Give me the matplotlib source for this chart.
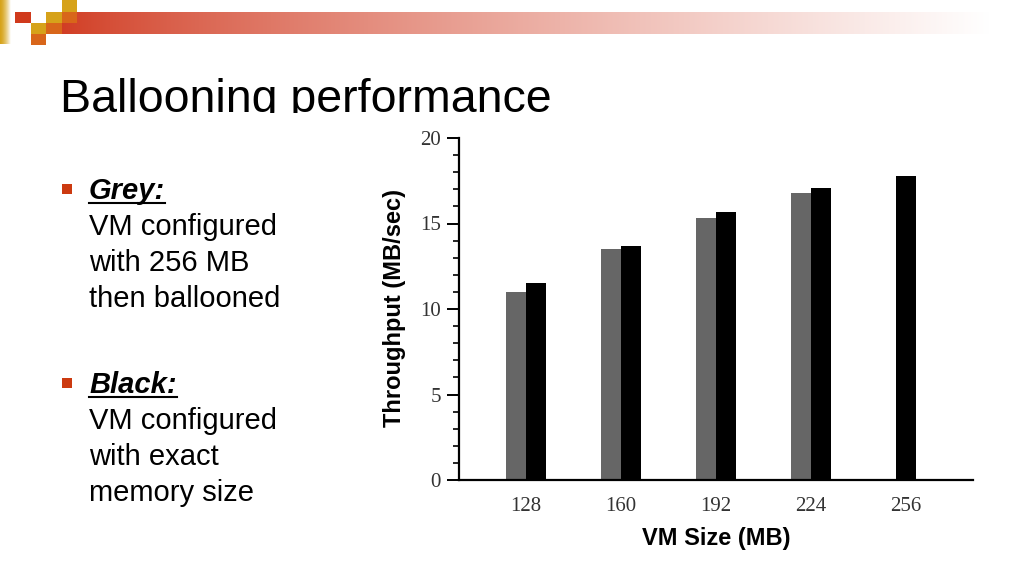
import matplotlib
matplotlib.use("Agg")
import matplotlib.pyplot as plt
import numpy as np
from matplotlib.patches import Rectangle
from matplotlib.ticker import MultipleLocator

# chart data
vm_sizes = ["128", "160", "192", "224", "256"]
grey_throughput = [11.0, 13.5, 15.3, 16.8, None]  # 256 MB: no ballooned bar
black_throughput = [11.5, 13.7, 15.65, 17.05, 17.8]

title = "Ballooning performance"
bullets = [
    ("Grey:", ["VM configured", "with 256 MB", "then ballooned"]),
    ("Black:", ["VM configured", "with exact", "memory size"]),
]

SANS = "Liberation Sans"
SERIF = "Liberation Serif"
ACCENT = "#cc3a10"
GOLD = "#d6a21a"
ORANGE = "#d8661a"
RED = "#d03a1c"

fig = plt.figure(figsize=(10.24, 5.76), dpi=100)

# slide background layer in pixel coordinates
bg = fig.add_axes([0, 0, 1, 1], zorder=0)
bg.set_xlim(0, 1024)
bg.set_ylim(576, 0)
bg.axis("off")

# header gradient bar
grad = np.linspace(0, 1, 512) ** 0.8
c0 = np.array([0.82, 0.24, 0.14])
img = c0[None, :] * (1 - grad[:, None]) + grad[:, None]
bg.imshow(img[None, :, :], extent=(62, 990, 34, 12), aspect="auto", interpolation="bilinear")

# left strip fading into white
strip = np.array([0.84, 0.64, 0.10])[None, :] * (1 - np.linspace(0, 1, 32)[:, None] ** 1.5) \
    + np.linspace(0, 1, 32)[:, None] ** 1.5
bg.imshow(strip[None, :, :], extent=(0, 11, 44, 0), aspect="auto", interpolation="bilinear")

# little squares in the top-left corner
squares = [
    (15, 12, 16, 11, RED),
    (31, 23, 15, 11, GOLD),
    (31, 34, 15, 11, ORANGE),
    (46, 12, 16, 11, GOLD),
    (46, 23, 16, 11, ORANGE),
    (62, 0, 15, 12, GOLD),
    (62, 12, 15, 11, ORANGE),
]
for x, y, w, h, c in squares:
    bg.add_patch(Rectangle((x, y), w, h, color=c, lw=0))

bg.text(60, 111.5, title, fontsize=33.5, family=SANS, color="black", va="baseline")
# the chart picture hides the bottom of the title
bg.add_patch(Rectangle((40, 112.5), 960, 30, color="white", lw=0, zorder=5))

y0 = 199
for head, lines in bullets:
    bg.add_patch(Rectangle((62, y0 - 15), 10, 10, color=ACCENT, lw=0))
    t = bg.text(89, y0, head, fontsize=21, family=SANS, weight="bold",
                style="italic", va="baseline")
    fig.canvas.draw()
    bb = t.get_window_extent().transformed(bg.transData.inverted())
    bg.plot([bb.x0, bb.x1], [y0 + 4, y0 + 4], color="black", lw=1.5)
    for i, line in enumerate(lines):
        bg.text(89, y0 + 36 * (i + 1), line, fontsize=21, family=SANS, va="baseline")
    y0 += 194

# bar chart
ax = fig.add_axes([459 / 1024, 96 / 576, 514 / 1024, 342 / 576], zorder=2)
ax.patch.set_alpha(0)
x = np.arange(len(vm_sizes))
w = 0.21
gx, gv, bx = [], [], []
for xi, g in zip(x, grey_throughput):
    if g is None:
        bx.append(xi)  # lone bar sits centred on its label
    else:
        gx.append(xi - w / 2)
        gv.append(g)
        bx.append(xi + w / 2)
ax.bar(gx, gv, width=w, color="#666666", lw=0)
ax.bar(bx, black_throughput, width=w, color="black", lw=0)

ax.set_xlim(-0.705, 4.705)
ax.set_ylim(0, 20)
ax.set_xticks(x)
ax.set_xticklabels(vm_sizes)
ax.yaxis.set_major_locator(MultipleLocator(5))
ax.yaxis.set_minor_locator(MultipleLocator(1))
for s in ["top", "right"]:
    ax.spines[s].set_visible(False)
for s in ["left", "bottom"]:
    ax.spines[s].set_linewidth(1.6)
ax.tick_params(axis="y", which="major", length=9, width=1.4, direction="out", pad=4)
ax.tick_params(axis="y", which="minor", length=4.5, width=1.2, direction="out")
ax.tick_params(axis="x", length=0, pad=12)
for lbl in ax.get_xticklabels() + ax.get_yticklabels():
    lbl.set_fontfamily(SERIF)
    lbl.set_fontsize(15)
    lbl.set_color("#333333")

fig.text(395 / 1024, 1 - 308 / 576, "Throughput (MB/sec)", rotation=90, ha="center",
         va="center", fontsize=17, weight="bold", family=SANS)
fig.text(716 / 1024, 1 - 538 / 576, "VM Size (MB)", ha="center", va="center",
         fontsize=17, weight="bold", family=SANS)

fig.savefig("out.png", dpi=100)
